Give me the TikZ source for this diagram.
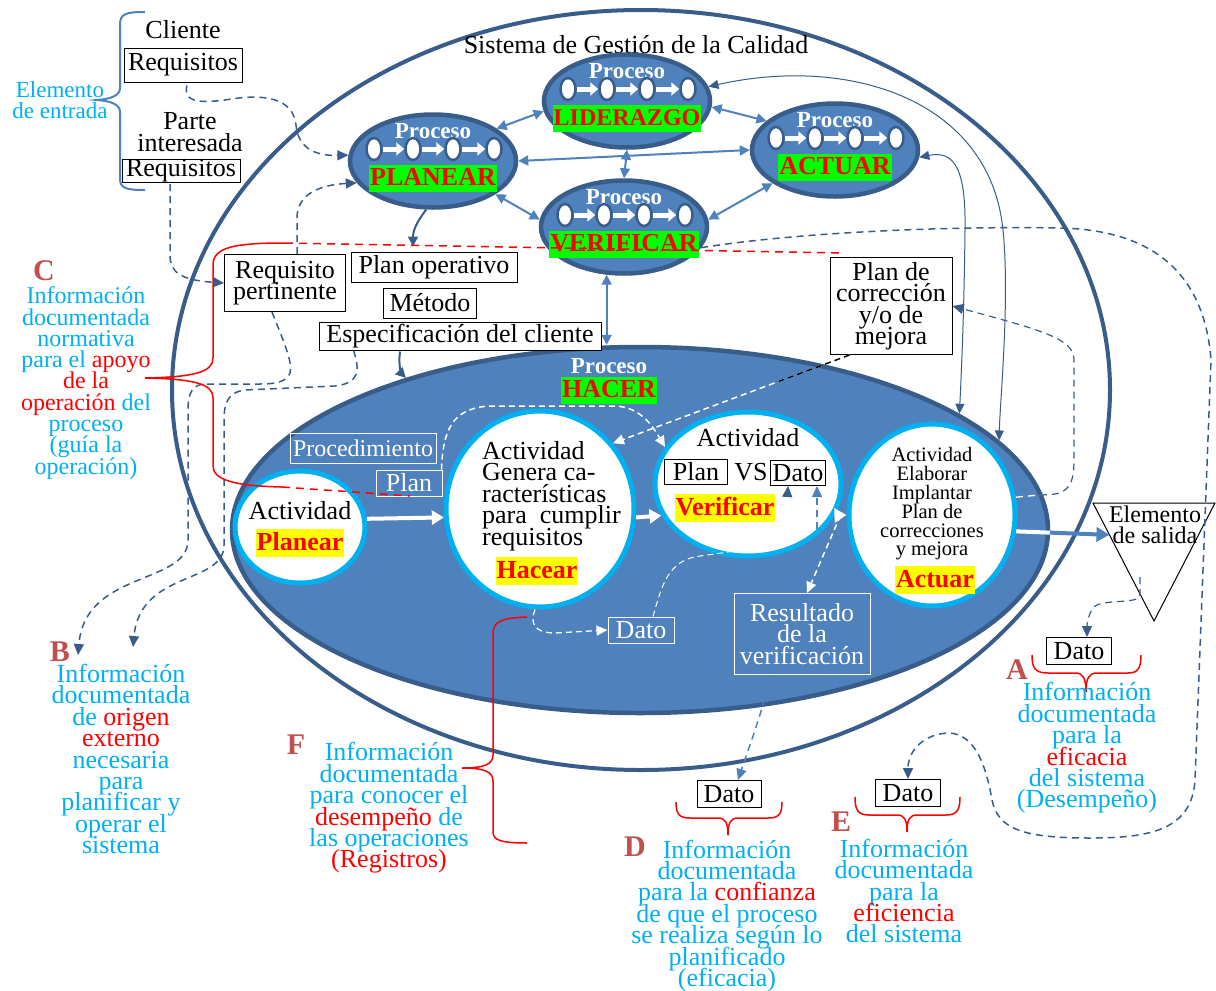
\documentclass[tikz,border=0pt]{standalone}
\usepackage{fontspec}
\setmainfont{Liberation Serif}
\usetikzlibrary{arrows.meta,shapes.geometric,calc}
\definecolor{pfill}{RGB}{79,129,189}
\definecolor{pdark}{RGB}{56,93,138}
\definecolor{cyanc}{RGB}{0,176,240}
\definecolor{greenc}{RGB}{0,255,0}
\definecolor{yelc}{RGB}{255,255,0}
\definecolor{redc}{RGB}{255,0,0}
\definecolor{letc}{RGB}{192,80,77}
\newcommand\fsz[2]{\fontsize{#1}{#2}\selectfont\lineskiplimit=-100pt\lineskip=0pt}
\newcommand\rd[1]{\textcolor{redc}{#1}}
\newcommand\ProcEll[5]{%
  \node[procell, minimum width=166pt, minimum height=93pt] (#1) at (#2,#3) {};
  \node[proctitle] (#1-t) at (#2,#3-30) {Proceso};
  \node[mini] (#1-c1) at (#2-59,#3-12) {};
  \node[mini] (#1-c2) at (#2-20,#3-12) {};
  \node[mini] (#1-c3) at (#2+20,#3-12) {};
  \node[mini] (#1-c4) at (#2+61,#3-12) {};
  \draw[warr] (#1-c1) -- (#1-c2);
  \draw[warr] (#1-c2) -- (#1-c3);
  \draw[warr] (#1-c3) -- (#1-c4);
  \node[glbl, font=\bfseries\fsz{#5}{#5}] (#1-l) at (#2,#3+17) {#4};
}
\begin{document}
\begin{tikzpicture}[x=1pt,y=-1pt,
  txt/.style={font=\fsz{26}{21.5}, align=center, inner sep=1pt},
  bx/.style={draw=black, line width=1pt, fill=white, font=\fsz{26}{21.5}, align=center, inner sep=1pt},
  wbx/.style={draw=white, line width=1pt, text=white, font=\fsz{26}{21.5}, align=center, inner sep=1pt},
  btxt/.style={text=cyanc, font=\fsz{26}{21.4}, align=center, inner sep=0pt},
  letr/.style={text=letc, font=\bfseries\fsz{30}{30}, inner sep=0pt},
  procell/.style={ellipse, fill=pfill, draw=pdark, line width=4.5pt, inner sep=0pt},
  proctitle/.style={text=white, font=\bfseries\fsz{23}{23}, inner sep=0pt},
  mini/.style={ellipse, fill=white, draw=pdark, line width=2.5pt, minimum width=15pt, minimum height=22pt, inner sep=0pt},
  warr/.style={draw=white, line width=5pt, -{Triangle[length=8pt,width=13pt]}},
  warr2/.style={draw=white, line width=4pt, -{Triangle[length=12pt,width=14pt]}},
  barr/.style={draw=pfill, line width=4pt, -{Triangle[length=13pt,width=14pt]}},
  glbl/.style={fill=greenc, text=redc, inner xsep=1pt, inner ysep=1pt, text height=20pt, text depth=5pt},
  ylbl/.style={fill=yelc, text=redc, font=\bfseries\fsz{26}{26}, inner xsep=1pt, inner ysep=1pt, text height=20pt, text depth=6pt},
  actc/.style={ellipse, fill=white, draw=cyanc, line width=5pt, inner sep=0pt},
  parr/.style={draw=pfill, line width=2pt, {Triangle[length=10pt,width=10pt]}-{Triangle[length=10pt,width=10pt]}},
  tarr/.style={draw=pdark, line width=1pt, {Triangle[length=10pt,width=9pt]}-{Triangle[length=10pt,width=9pt]}},
  sarr/.style={draw=pdark, line width=2pt, -{Triangle[length=10pt,width=10pt]}},
  ddash/.style={draw=pdark, line width=1.5pt, dash pattern=on 7pt off 5pt, -{Triangle[length=11pt,width=10pt]}},
  ldash/.style={draw=pfill, line width=1.5pt, dash pattern=on 7pt off 5pt, -{Triangle[length=11pt,width=10pt]}},
  wdash/.style={draw=white, line width=1.3pt, dash pattern=on 6pt off 4pt, -{Triangle[length=11pt,width=10pt]}},
  rbrace/.style={draw=redc, line width=1.5pt},
  rdash/.style={draw=redc, line width=1.5pt, dash pattern=on 8pt off 6pt},
]
\useasboundingbox (0,0) rectangle (1216,991);
\fill[white] (0,0) rectangle (1216,991);

% outer system ellipse
\node[ellipse, draw=pdark, line width=4pt, minimum width=938pt, minimum height=760pt, inner sep=0pt] (sgc) at (641,390) {};
\node[txt] (sgc-t) at (636,45) {Sistema de Gestión de la Calidad};

% HACER process
\node[procell, minimum width=816pt, minimum height=366pt] (hacer) at (640,530) {};
\node[proctitle] (hacer-t) at (609,366) {Proceso};
\node[glbl, font=\bfseries\fsz{26}{26}] (hacer-l) at (609,390) {HACER};

% activities
\node[actc, minimum width=130pt, minimum height=112pt] (aP) at (300,527) {};
\node[txt] (aP-t) at (300,511) {Actividad};
\node[ylbl] (aP-l) at (300,543) {Planear};

\node[actc, minimum width=188pt, minimum height=196pt] (aH) at (540,509) {};
\node[txt, align=left, anchor=west] (aH-t) at (481,496) {Actividad\\Genera ca-\\racterísticas\\para\ \ cumplir\\requisitos};
\node[ylbl] (aH-l) at (537,571) {Hacear};

\node[actc, minimum width=186pt, minimum height=144pt] (aV) at (748,484) {};
\node[txt] (aV-t) at (748,438) {Actividad};
\node[bx, minimum width=63pt, minimum height=25pt] (planV) at (696,472) {Plan};
\node[txt] (vs) at (751,472) {VS};
\node[bx, minimum width=55pt, minimum height=25pt] (datoV) at (798,473) {Dato};
\node[ylbl] (aV-l) at (725,508) {Verificar};

\node[actc, minimum width=166pt, minimum height=182pt] (aA) at (932,515) {};
\node[txt, font=\fsz{20.5}{18.8}] (aA-t) at (932,504) {Actividad\\Elaborar\\Implantar\\Plan de\\correcciones\\y mejora};
\node[ylbl] (aA-l) at (935,580) {Actuar};

% white boxes inside HACER
\node[wbx, font=\fsz{24}{21}, minimum width=146pt, minimum height=30pt] (proc) at (363,448) {Procedimiento};
\node[wbx, minimum width=66pt, minimum height=26pt] (planB) at (409,483) {Plan};
\node[wbx, minimum width=66pt, minimum height=26pt] (datoH) at (641,630) {Dato};
\node[wbx, minimum width=136pt, minimum height=81pt] (res) at (802,634) {Resultado\\de la\\verificación};

% process ellipses
\ProcEll{pPla}{433}{161}{PLANEAR}{26}
\ProcEll{pLid}{627}{101}{LIDERAZGO}{24}
\ProcEll{pAct}{835}{150}{ACTUAR}{26}
\ProcEll{pVer}{624}{227}{VERIFICAR}{26}

% input elements
\node[txt] (cli) at (183,30) {Cliente};
\node[bx, minimum width=118pt, minimum height=34pt] (req1) at (183,65) {Requisitos};
\node[txt] (parte) at (190,132) {Parte\\interesada};
\node[bx, minimum width=118pt, minimum height=23pt, inner ysep=0pt] (req2) at (181,171) {Requisitos};
\node[bx, minimum width=121pt, minimum height=57pt] (reqp) at (285,283) {Requisito\\pertinente};
\node[bx, minimum width=166pt, minimum height=30pt] (planop) at (434,267) {Plan operativo};
\node[bx, minimum width=93pt, minimum height=30pt] (metodo) at (430,303) {Método};
\node[bx, minimum width=282pt, minimum height=28pt] (espec) at (460,336) {Especificación del cliente};
\node[bx, minimum width=122pt, minimum height=97pt] (pdc) at (891,306) {Plan de\\corrección\\y/o de\\mejora};

% output triangle
\coordinate (tL) at (1093,503);
\coordinate (tR) at (1215,503);
\coordinate (tB) at (1154,621);
\draw[black, line width=1pt] (tL) -- (tR) -- (tB) -- cycle;
\node[txt, font=\fsz{24}{21}] (salida) at (1155,525) {Elemento\\de salida};
\coordinate (salIn) at ($(tL)!0.27!(tB)$);
\coordinate (salOut) at (1140,577);

% data boxes
\node[bx, minimum width=65pt, minimum height=27pt] (datoA) at (1079,651) {Dato};
\node[bx, minimum width=64pt, minimum height=27pt] (datoD) at (729,794) {Dato};
\node[bx, minimum width=65pt, minimum height=27pt] (datoE) at (908,793) {Dato};

% links between processes
\draw[parr] (pLid.187) -- (pPla.27);
\draw[parr] (pLid.356) -- (pAct.157);
\draw[parr] (pPla.east) -- (pAct.west);
\draw[parr] (pLid.south) -- (pVer.north);
\draw[parr] (pPla.332) -- (pVer.175);
\draw[parr] (pVer.5) -- (pAct.208);
\draw[parr] (pVer.250) -- (pVer.250 |- hacer.north);

% thin connectors to HACER
\draw[tarr] (pLid.10) .. controls (850,55) and (990,100) .. (1003,230) .. controls (1010,300) and (1000,400) .. (hacer.14);
\draw[tarr] (pAct.355) .. controls (955,150) and (966,170) .. (965,230) .. controls (964,320) and (961,380) .. (hacer.20);

% solid short arrows
\draw[sarr] (pPla.262) .. controls (420,218) and (413,228) .. ($(planop.north)+(-21,-5)$);
\draw[sarr] ($(espec.south)+(-60,1)$) .. controls (398,366) and (402,374) .. (hacer.147);

% dashed input lines
\coordinate (bA) at (78,655);
\coordinate (bB) at (133,647);
\draw[ddash] ($(req1.south)+(4,3)$) .. controls (183,100) and (195,104) .. (225,100) .. controls (265,93) and (293,98) .. (296,125) .. controls (298,148) and (315,156) .. (pPla.176);
\draw[ddash] ($(req2.south)+(-11,1)$) -- (170,255) .. controls (170,272) and (180,280) .. (reqp.west);
\draw[ddash] ($(reqp.north)+(12,0)$) -- (297,218) .. controls (297,195) and (318,185) .. (pPla.196);
\draw[ddash] ($(reqp.south)+(-13,0)$) .. controls (283,340) and (293,362) .. (290,373) .. controls (287,382) and (275,384) .. (260,384) -- (206,384) .. controls (193,384) and (188,392) .. (188,410) -- (188,540) .. controls (188,585) and (85,570) .. (bA);
\draw[ddash] ($(espec.south west)+(35,0)$) .. controls (360,370) and (360,383) .. (335,386) -- (245,390) .. controls (230,392) and (224,400) .. (224,420) -- (224,545) .. controls (224,585) and (140,570) .. (bB);

% Actuar -> plan de correccion
\draw[ddash, line width=1.2pt] (aA.12) -- (1055,494) .. controls (1072,491) and (1074,478) .. (1074,458) -- (1074,360) .. controls (1074,338) and (1040,330) .. (pdc.east);
\draw[white, line width=1.4pt, dash pattern=on 7pt off 5pt] (aA.12) -- (1040,495);

% long dashed line from VERIFICAR to Dato E
\draw[ddash] (pVer.345) .. controls (800,232) and (950,226) .. (1060,228) .. controls (1160,230) and (1205,280) .. (1211,360) -- (1195,780) .. controls (1192,830) and (1150,838) .. (1090,838) .. controls (1020,838) and (998,828) .. (992,800) .. controls (986,765) and (975,735) .. (950,733) .. controls (925,733) and (908,750) .. (datoE.north);

% Resultado -> Dato D
\draw[ldash] ($(res.south)+(-32,0)$) .. controls (765,705) and (748,750) .. ($(datoD.north)+(9,0)$);
\draw[ldash] ($(datoV.south)+(19,43)$) -- ($(datoV.south)+(19,0)$);

% white dashed inside HACER
\draw[wdash] ($(aH.south)+(-5,0)$) .. controls (530,622) and (533,633) .. (555,633) -- (datoH.west);
\draw[wdash, line width=1pt, -{Triangle[length=11pt,width=10pt,color=pdark]}] ($(datoH.north)+(12,0)$) .. controls (662,585) and (668,560) .. (700,556) .. controls (745,550) and (783,545) .. (786,515) -- ($(datoV.south)+(-10,0)$);
\coordinate (va) at ($(aV.340)!0.5!(aA.west)$);
\draw[wdash, line width=1.5pt] (va) -- ($(res.north)+(5,0)$);
\draw[wdash, line width=1.5pt] ($(planB.north east)+(-1,0)$) .. controls (443,430) and (452,408) .. (490,406) -- (615,406) .. controls (640,407) and (652,425) .. (aV.156);
\coordinate (pdcA) at ($(pdc.south west)+(20,0)$);
\draw[wdash, line width=1.5pt] (pdcA) -- (aH.42);
\draw[draw=black, line width=1.5pt, dash pattern=on 6pt off 4pt] (pdcA) -- ($(pdcA)!0.3!(aH.42)$);

% white arrows between activities
\draw[warr2] (aP.7) -- (aH.185);
\draw[warr2] (aH.355) -- (aV.200);
\draw[warr2] (aV.340) -- (aA.west);
\draw[barr] (aA.349) -- (salIn);
\draw[white, line width=4pt] (aA.349) -- ($(aA.349)!0.36!(salIn)$);

% output to Dato A
\draw[ddash, line width=1.2pt] (salOut) -- (1140,595) .. controls (1140,605) and (1100,598) .. (1093,608) .. controls (1088,615) and (1087,625) .. ($(datoA.north)+(8,0)$);

% left blue brace
\draw[draw=pfill, line width=2pt] (145,12) .. controls (125,12) and (120,14) .. (120,25) -- (120,88) .. controls (120,96) and (110,99) .. (97,100) .. controls (110,101) and (120,104) .. (120,112) -- (120,178) .. controls (120,188) and (125,190) .. (145,190);

% red braces
\draw[rbrace] (285,243) .. controls (235,243) and (213,247) .. (213,265) -- (213,358) .. controls (213,372) and (195,377) .. (145,378) .. controls (195,379) and (213,384) .. (213,398) -- (213,466) .. controls (213,480) and (235,486) .. (282,487);
\draw[rdash] (285,243) -- (842,253);
\draw[rdash] (282,487) -- (410,496);
\draw[rbrace] (527,617) .. controls (500,618) and (493,622) .. (493,634) -- (493,755) .. controls (493,764) and (485,768) .. (462,768) .. controls (485,768) and (493,772) .. (493,781) -- (493,832) .. controls (493,840) and (500,843) .. (527,843);
\draw[rbrace] (1032,655) .. controls (1032,668) and (1035,673) .. (1048,673) -- (1075,673) .. controls (1083,673) and (1086,678) .. (1086,692) .. controls (1086,678) and (1089,673) .. (1097,673) -- (1128,673) .. controls (1138,673) and (1141,668) .. (1141,655);
\draw[rbrace] (676,802) .. controls (676,814) and (679,818) .. (690,818) -- (718,818) .. controls (725,818) and (728,822) .. (728,835) .. controls (728,822) and (731,818) .. (738,818) -- (768,818) .. controls (779,818) and (782,814) .. (782,802);
\draw[rbrace] (855,797) .. controls (855,810) and (858,815) .. (869,815) -- (897,815) .. controls (904,815) and (907,819) .. (907,832) .. controls (907,819) and (910,815) .. (917,815) -- (946,815) .. controls (957,815) and (960,810) .. (960,797);

% blue texts
\node[btxt, font=\fsz{23}{21}] (entrada) at (60,100) {Elemento\\de entrada};
\node[btxt, font=\fsz{24}{21.3}] (txtC) at (86,383) {Información\\documentada\\normativa\\para el \rd{apoyo}\\\rd{de la}\\\rd{operación} del\\proceso\\(guía la\\operación)};
\node[btxt] (txtB) at (121,759) {Información\\documentada\\de \rd{origen}\\\rd{externo}\\necesaria\\para\\planificar y\\operar el\\sistema};
\node[btxt] (txtF) at (389,808) {Información\\documentada\\para conocer el\\\rd{desempeño} de\\las operaciones\\\rd{(Registros)}};
\node[btxt] (txtD) at (727,916) {Información\\documentada\\para la \rd{confianza}\\de que el proceso\\se realiza según lo\\planificado\\(eficacia)};
\node[btxt] (txtE) at (904,891) {Información\\documentada\\para la\\\rd{eficiencia}\\del sistema};
\node[btxt] (txtA) at (1087,748) {Información\\documentada\\para la\\\rd{eficacia}\\del sistema\\(Desempeño)};

% letters
\node[letr] (LA) at (1017,670) {A};
\node[letr] (LB) at (60,652) {B};
\node[letr] (LC) at (44,271) {C};
\node[letr] (LD) at (635,847) {D};
\node[letr] (LE) at (841,822) {E};
\node[letr] (LF) at (296,745) {F};
\end{tikzpicture}
\end{document}
